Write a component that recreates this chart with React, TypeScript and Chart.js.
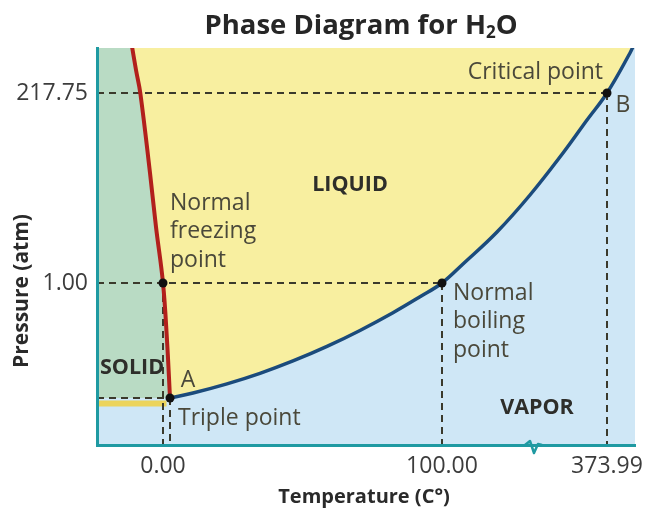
import React, { useEffect, useRef } from 'react';
import { Chart, LinearScale, registerables } from 'chart.js';

Chart.register(...registerables);

// ---------------- data ----------------
const chartTitleMain = 'Phase Diagram for H';
const chartTitleSub = '2';
const chartTitleEnd = 'O';
const xAxisTitle = 'Temperature (C°)';
const yAxisTitle = 'Pressure (atm)';

const xTickValues = [0, 100, 373.99];
const yTickValues = [1, 217.75];

// key points: freezing, triple, boiling, critical  (°C, atm)
const freezingPoint = { x: 0, y: 1 };
const triplePoint = { x: 0.01, y: 0.006 };
const boilingPoint = { x: 100, y: 1 };
const criticalPoint = { x: 373.99, y: 217.75 };

// melting curve (solid/liquid boundary)
const meltingTemps = [-11.34, -9.64, -8.11, -4.64, -2.5, 0, 0.0057, 0.01];
const meltingPress = [276.97, 244.46, 217.75, 126.49, 64.88, 1, 0.507, 0.006];

// vaporization curve (liquid/vapor boundary)
const vaporTemps = [0.01, 8.46, 20.96, 33.09, 45.22, 57.72, 69.85, 81.98, 91.91, 100, 134.87, 191.33, 246.13, 300.93, 340.78, 373.99, 412.18, 418.83];
const vaporPress = [0.006, 0.049, 0.128, 0.219, 0.326, 0.452, 0.59, 0.743, 0.881, 1, 22.67, 59.18, 101.39, 149.3, 186.95, 217.75, 264.19, 274.06];

// sublimation band just under the triple point
const sublimationTemps = [-23.57, 0.005];
const sublimationPress = [0.0053, 0.0053];

// axis extents and axis break (schematic, non-uniform axes)
const xMin = -23.57;
const xMax = 420.49;
const yMin = 0;
const yMax = 270;
const xBreakValue = 251.1;

// schematic axis: value stops and their relative positions along the axis
const xStops = [xMin, 0, 0.01, 100, 373.99, xMax];
const xFracs = [0, 0.12268, 0.13569, 0.64126, 0.94796, 1];
const yStops = [yMin, 0.006, 1, 217.75, yMax];
const yFracs = [0, 0.11839, 0.40806, 0.88665, 1];

// text annotations (anchor in data units)
const annotations = [
  { lines: ['LIQUID'], x: 66.18, y: 112.8, align: 'center', bold: true },
  { lines: ['Normal', 'freezing', 'point'], x: 0.01, y: 92.26, align: 'left', bold: false },
  { lines: ['SOLID'], x: -22.5, y: 0.2653, align: 'left', bold: true },
  { lines: ['A'], x: 6.63, y: 0.1616, align: 'center', bold: false },
  { lines: ['Triple point'], x: 2.95, y: 0.00345, align: 'left', bold: false },
  { lines: ['Normal', 'boiling', 'point'], x: 118.27, y: 0.9136, align: 'left', bold: false },
  { lines: ['VAPOR'], x: 257.75, y: 0.00472, align: 'center', bold: true },
  { lines: ['Critical point'], x: 367.35, y: 242.13, align: 'right', bold: false },
  { lines: ['B'], x: 400.56, y: 204.06, align: 'center', bold: false },
];

// ---------------- styles ----------------
const FONT = '"Open Sans", "Noto Sans", sans-serif';
const LIQUID = '#f8efa0';
const VAPOR_BG = '#cfe7f6';
const SOLID_BG = '#b9dbc4';
const AXIS = '#1f9aa2';
const DASH = '#3b3a2c';
const RED = '#b2201c';
const BLUE = '#1b4b7c';
const LABEL = '#4a483a';

const zip = (xs: number[], ys: number[]) => xs.map((x, i) => ({ x, y: ys[i] }));

const AXIS_MAPS: Record<string, { v: number[]; f: number[] }> = {
  x: { v: xStops, f: xFracs },
  y: { v: yStops, f: yFracs },
};

function interp(val: number, from: number[], to: number[]) {
  const n = from.length;
  let i = 0;
  if (val > from[0]) {
    i = n - 2;
    for (let k = 0; k < n - 1; k++) {
      if (val <= from[k + 1]) { i = k; break; }
    }
  }
  return to[i] + ((val - from[i]) * (to[i + 1] - to[i])) / (from[i + 1] - from[i]);
}

class SchematicScale extends LinearScale {
  static id = 'schematic';
  static defaults = LinearScale.defaults;
  getPixelForValue(value: any) {
    if (value === null || value === undefined || isNaN(value)) return NaN;
    const m = AXIS_MAPS[(this as any).id];
    return this.getPixelForDecimal(interp(+value, m.v, m.f));
  }
  getValueForPixel(pixel: number) {
    const m = AXIS_MAPS[(this as any).id];
    return interp(this.getDecimalForPixel(pixel), m.f, m.v);
  }
}
Chart.register(SchematicScale as any);

const bgPlugin = {
  id: 'bg',
  beforeDraw(chart: any) {
    const { ctx, chartArea: a } = chart;
    ctx.save();
    ctx.fillStyle = VAPOR_BG;
    ctx.fillRect(a.left, a.top, a.right - a.left, a.bottom - a.top);
    ctx.restore();
  },
};

const textPlugin = {
  id: 'texts',
  afterDatasetsDraw(chart: any) {
    const { ctx, scales } = chart;
    const xs = scales.x, ys = scales.y;
    ctx.save();
    ctx.textBaseline = 'middle';
    for (const a of annotations) {
      const px = xs.getPixelForValue(a.x);
      const py = ys.getPixelForValue(a.y);
      ctx.font = `${a.bold ? 'bold 21.5px' : '23px'} ${FONT}`;
      ctx.fillStyle = a.bold ? '#2e2e2a' : LABEL;
      ctx.textAlign = a.align as CanvasTextAlign;
      a.lines.forEach((t, i) => ctx.fillText(t, px, py + i * 28.5));
    }
    ctx.restore();
  },
  afterDraw(chart: any) {
    const { ctx, chartArea: a, scales } = chart;
    ctx.save();
    // title with subscript
    ctx.fillStyle = '#262626';
    ctx.textBaseline = 'middle';
    const big = `bold 27.5px ${FONT}`;
    const small = `bold 17px ${FONT}`;
    ctx.font = big;
    const w1 = ctx.measureText(chartTitleMain).width;
    const w3 = ctx.measureText(chartTitleEnd).width;
    ctx.font = small;
    const w2 = ctx.measureText(chartTitleSub).width;
    let tx = (a.left + a.right) / 2 - 5 - (w1 + w2 + w3) / 2;
    const ty = 26;
    ctx.textAlign = 'left';
    ctx.font = big;
    ctx.fillText(chartTitleMain, tx, ty);
    tx += w1;
    ctx.font = small;
    ctx.fillText(chartTitleSub, tx, ty + 7);
    tx += w2;
    ctx.font = big;
    ctx.fillText(chartTitleEnd, tx, ty);

    // axis titles
    ctx.fillStyle = '#2a2a2a';
    ctx.textAlign = 'center';
    ctx.font = `bold 20px ${FONT}`;
    ctx.fillText(xAxisTitle, (a.left + a.right) / 2 - 2, 497);
    ctx.save();
    ctx.font = `bold 21px ${FONT}`;
    ctx.translate(22, 291);
    ctx.rotate(-Math.PI / 2);
    ctx.fillText(yAxisTitle, 0, 0);
    ctx.restore();

    // axis break mark
    const bx = scales.x.getPixelForValue(xBreakValue);
    const by = a.bottom;
    ctx.strokeStyle = AXIS;
    ctx.lineWidth = 2.5;
    ctx.lineJoin = 'round';
    ctx.beginPath();
    ctx.moveTo(bx - 8, by);
    ctx.lineTo(bx - 3, by - 4);
    ctx.lineTo(bx + 1, by + 8);
    ctx.lineTo(bx + 5, by - 1);
    ctx.lineTo(bx + 9, by);
    ctx.stroke();
    ctx.restore();
  },
};

const dashed = (pts: { x: number; y: number }[]) => ({
  data: pts,
  borderColor: DASH,
  borderWidth: 2,
  borderDash: [7, 5],
  pointRadius: 0,
  tension: 0,
  fill: false,
});

export default function App() {
  const ref = useRef<HTMLCanvasElement | null>(null);
  useEffect(() => {
    if (!ref.current) return;
    const chart = new Chart(ref.current, {
      type: 'line',
      data: {
        datasets: [
          {
            data: [freezingPoint, triplePoint, boilingPoint, criticalPoint],
            showLine: false,
            pointRadius: 4.5,
            pointBackgroundColor: '#111',
            pointBorderWidth: 0,
          },
          {
            data: zip(meltingTemps, meltingPress),
            borderColor: RED,
            borderWidth: 4,
            backgroundColor: LIQUID,
            fill: 'end',
            tension: 0.4,
            pointRadius: 0,
          },
          {
            data: zip(vaporTemps, vaporPress),
            borderColor: BLUE,
            borderWidth: 3.5,
            backgroundColor: LIQUID,
            fill: 'end',
            tension: 0.4,
            pointRadius: 0,
          },
          dashed([{ x: xMin, y: criticalPoint.y }, criticalPoint]),
          dashed([{ x: xMin, y: boilingPoint.y }, boilingPoint]),
          dashed([{ x: xMin, y: triplePoint.y }, triplePoint]),
          dashed([freezingPoint, { x: freezingPoint.x, y: yMin }]),
          dashed([triplePoint, { x: triplePoint.x, y: yMin }]),
          dashed([boilingPoint, { x: boilingPoint.x, y: yMin }]),
          dashed([criticalPoint, { x: criticalPoint.x, y: yMin }]),
          {
            data: zip(sublimationTemps, sublimationPress),
            borderColor: '#ecd45c',
            borderWidth: 6,
            pointRadius: 0,
            tension: 0,
            fill: false,
          },
          {
            data: [{ x: xMin, y: triplePoint.y }, triplePoint],
            borderWidth: 0,
            borderColor: 'rgba(0,0,0,0)',
            backgroundColor: SOLID_BG,
            fill: 'end',
            tension: 0,
            pointRadius: 0,
          },
        ] as any,
      },
      options: {
        responsive: false,
        animation: false,
        devicePixelRatio: 1,
        elements: { line: { capBezierPoints: false, borderJoinStyle: 'round' } } as any,
        layout: { padding: { top: 48, right: 10, bottom: 0, left: 0 } },
        plugins: {
          legend: { display: false },
          title: { display: false },
          tooltip: { enabled: false },
          filler: { drawTime: 'beforeDatasetsDraw' },
        } as any,
        scales: {
          x: {
            type: 'schematic' as any,
            min: xMin,
            max: xMax,
            grid: { display: false, drawTicks: false },
            border: { display: true, color: AXIS, width: 3, z: 1 } as any,
            afterBuildTicks: (s: any) => { s.ticks = xTickValues.map((v) => ({ value: v })); },
            afterFit: (s: any) => { s.height = 69; s.paddingLeft = 0; s.paddingRight = 0; },
            ticks: {
              autoSkip: false,
              maxRotation: 0,
              padding: 8,
              color: '#3c3c3c',
              font: { family: FONT, size: 23 },
              callback: (v: any) => Number(v).toFixed(2),
            },
          },
          y: {
            type: 'schematic' as any,
            min: yMin,
            max: yMax,
            grid: { display: false, drawTicks: false },
            border: { display: true, color: AXIS, width: 3, z: 1 } as any,
            afterBuildTicks: (s: any) => { s.ticks = yTickValues.map((v) => ({ value: v })); },
            afterFit: (s: any) => { s.width = 97; s.paddingTop = 0; s.paddingBottom = 0; },
            ticks: {
              autoSkip: false,
              padding: 9,
              color: '#3c3c3c',
              font: { family: FONT, size: 23 },
              callback: (v: any) => Number(v).toFixed(2),
            },
          },
        } as any,
      },
      plugins: [bgPlugin, textPlugin],
    });
    return () => chart.destroy();
  }, []);

  return (
    <div style={{ position: 'fixed', left: 0, top: 0, width: 645, height: 514, background: '#fff' }}>
      <canvas ref={ref} width={645} height={514} style={{ display: 'block' }} />
    </div>
  );
}
